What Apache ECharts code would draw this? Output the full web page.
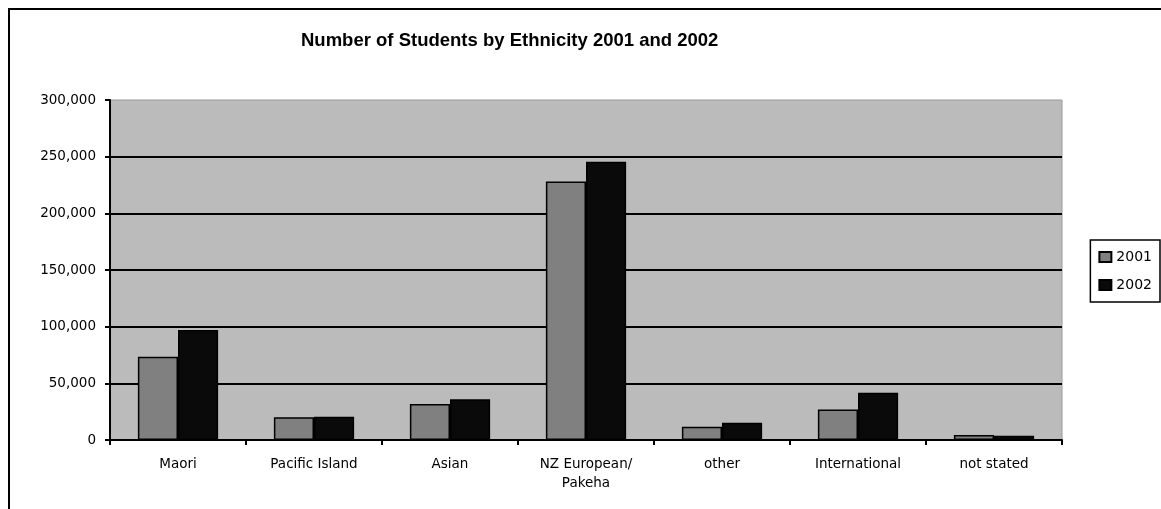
<!DOCTYPE html>
<html>
<head>
<meta charset="utf-8">
<script src="https://cdn.jsdelivr.net/npm/echarts@6/dist/echarts.min.js"></script>
<style>html,body{margin:0;padding:0;background:#fff;}#c{width:1161px;height:509px;}</style>
</head>
<body>
<div id="c"></div>
<script>
const categories = ['Maori', 'Pacific Island', 'Asian', 'NZ European/\nPakeha', 'other', 'International', 'not stated'];
const values2001 = [73500, 20000, 31800, 228000, 11800, 27000, 4400];
const values2002 = [97000, 20500, 35900, 245600, 15300, 41700, 3800];
const seriesNames = ['2001', '2002'];
const titleText = 'Number of Students by Ethnicity 2001 and 2002';

const chart = echarts.init(document.getElementById('c'), null, {renderer: 'canvas'});
const font = 'Arial, "Liberation Sans", sans-serif';
const font2 = '"DejaVu Sans", Verdana, sans-serif';
chart.setOption({
  animation: false,
  backgroundColor: '#fff',
  title: {
    text: titleText,
    left: 296, top: 26,
    textStyle: {fontFamily: font, fontSize: 18.5, fontWeight: 'bold', color: '#000'}
  },
  legend: {
    orient: 'vertical',
    right: 1, top: 240,
    itemWidth: 12, itemHeight: 10, itemGap: 14,
    padding: [10, 8, 10, 8],
    borderColor: '#000', borderWidth: 1.5,
    icon: 'rect',
    textStyle: {fontFamily: font2, fontSize: 14, color: '#000'},
    data: seriesNames
  },
  graphic: [{
    type: 'rect', silent: true, z: 100,
    shape: {x: 9, y: 9, width: 1300, height: 700},
    style: {fill: 'none', stroke: '#000', lineWidth: 2}
  }],
  grid: {
    left: 110, right: 99, top: 100, bottom: 69,
    show: true, backgroundColor: '#bbbbbb', borderColor: '#9a9a9a', borderWidth: 1
  },
  xAxis: {
    type: 'category',
    data: categories,
    axisLine: {lineStyle: {color: '#000', width: 2}},
    axisTick: {show: true, length: 5, lineStyle: {color: '#000', width: 2}},
    axisLabel: {fontFamily: font2, fontSize: 13.5, color: '#000', margin: 15, lineHeight: 19, interval: 0}
  },
  yAxis: {
    type: 'value',
    min: 0, max: 300000, interval: 50000,
    axisLine: {show: true, lineStyle: {color: '#000', width: 2}},
    axisTick: {show: true, length: 5, lineStyle: {color: '#000', width: 2}},
    axisLabel: {fontFamily: font2, fontSize: 13.5, color: '#000', margin: 14,
      formatter: v => v === 0 ? '0' : v.toLocaleString('en-US')},
    splitLine: {show: true, lineStyle: {color: ['#000', '#000', '#000', '#000', '#000', '#000', 'rgba(0,0,0,0)'], width: 2}}
  },
  series: [
    {
      name: seriesNames[0], type: 'bar', data: values2001,
      barGap: '0%', barCategoryGap: '41%',
      itemStyle: {color: '#808080', borderColor: '#000', borderWidth: 1.5}
    },
    {
      name: seriesNames[1], type: 'bar', data: values2002,
      itemStyle: {color: '#0a0a0a', borderColor: '#000', borderWidth: 1.5}
    }
  ]
});
</script>
</body>
</html>
